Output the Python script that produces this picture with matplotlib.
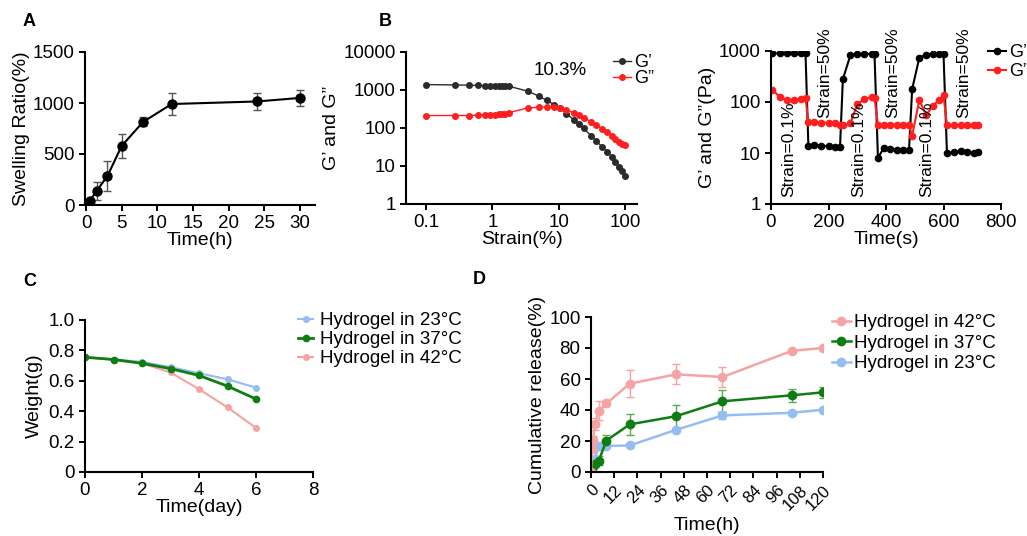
import matplotlib.pyplot as plt
from matplotlib.ticker import FixedLocator, FixedFormatter, NullLocator

plt.rcParams['font.family'] = ['Liberation Sans', 'DejaVu Sans']
plt.rcParams['axes.linewidth'] = 1.5
plt.rcParams['xtick.major.width'] = 1.4
plt.rcParams['ytick.major.width'] = 1.4
plt.rcParams['xtick.major.size'] = 4
plt.rcParams['ytick.major.size'] = 4
plt.rcParams['xtick.labelsize'] = 13.5
plt.rcParams['ytick.labelsize'] = 13.5
plt.rcParams['axes.labelsize'] = 14

# A - swelling ratio
sw_time = [0.5, 1.5, 3, 5, 8, 12, 24, 30]
sw_ratio = [40, 140, 285, 580, 815, 990, 1015, 1050]
sw_err = [15, 90, 145, 115, 45, 105, 80, 75]

# B - amplitude sweep
strain = [0.1, 0.27, 0.44, 0.61, 0.78, 0.93, 1.08, 1.24, 1.39, 1.56, 1.8, 3.4, 5.1, 6.6,
          8.5, 10.3, 13, 16.7, 20, 23.6, 30.5, 36.6, 44.6, 53, 62, 71, 80, 89, 100]
g1_strain = [1390, 1360, 1340, 1320, 1310, 1300, 1290, 1280, 1270, 1260, 1250, 930, 680, 530,
             410, 340, 240, 165, 125, 98, 63, 46, 32, 24, 17.7, 13.1, 9.7, 7.2, 5.5]
g2_strain = [213, 213, 213, 218, 220, 222, 226, 228, 232, 235, 255, 337, 351, 355,
             358, 340, 300, 250, 215, 185, 146, 117, 96, 80, 62, 51, 43, 38, 36]

# step strain recovery
rec_time = [5, 30, 55, 80, 105, 120,
            130, 150, 175, 200, 222, 240,
            250, 276, 300, 325, 350, 360,
            372, 392, 415, 438, 460, 480,
            491, 516, 540, 563, 585, 600,
            612, 635, 660, 683, 705, 720]
rec_g1 = [900, 900, 900, 900, 910, 910,
          14, 14.5, 14, 13.5, 13, 13,
          280, 820, 880, 880, 880, 870,
          8, 12.5, 12, 11.5, 11.5, 11.5,
          180, 740, 850, 880, 880, 880,
          10, 10.3, 10.8, 10.6, 10, 10.5]
rec_g2 = [175, 125, 110, 108, 115, 122,
          40, 40, 39.5, 39, 38, 35,
          35, 38, 90, 115, 125, 122,
          35, 36, 36, 36, 36, 35,
          22, 110, 55, 85, 110, 135,
          35, 35, 35, 35, 35, 35]
step_labels = ['Strain=0.1%', 'Strain=50%', 'Strain=0.1%', 'Strain=50%', 'Strain=0.1%', 'Strain=50%']
step_label_t = [60, 188, 304, 425, 541, 669]

# C - weight loss
day = [0, 1, 2, 3, 4, 5, 6]
w_23 = [0.755, 0.74, 0.725, 0.69, 0.65, 0.61, 0.555]
w_37 = [0.755, 0.74, 0.715, 0.68, 0.635, 0.565, 0.48]
w_42 = [0.755, 0.74, 0.715, 0.655, 0.545, 0.425, 0.29]

# D - cumulative release
rel_time = [0, 0.5, 1, 2, 4, 8, 20, 44, 68, 104, 120]
rel_42 = [0, 14.7, 20.5, 31, 39.5, 44.2, 57, 63, 61.3, 78.2, 80]
rel_42_err = [0, 2, 3, 4, 6, 1.5, 8.5, 6.5, 6.3, 1, 1]
rel_37 = [0, 2.5, 3.7, 5.4, 7.3, 20.3, 30.7, 36, 45.6, 49.5, 51.4]
rel_37_err = [0, 1, 1.5, 2, 3, 3.5, 7, 7.5, 7, 4.3, 3.5]
rel_23 = [0, 5, 6.5, 8.6, 16.6, 16.8, 17.1, 27.2, 36.5, 38.2, 40.2]
rel_23_err = [0, 1, 1, 1, 1, 1, 1, 1.5, 2.5, 1, 1]

c_blue = '#96bdf2'
c_green = '#0f7d12'
c_pink = '#f5a3a3'
c_red = '#ff1f1f'
c_black = '#2b2b2b'

W, H = 1027, 536
fig = plt.figure(figsize=(W / 100, H / 100), dpi=100)


def box(x0, x1, y0, y1):
    return [x0 / W, 1 - y1 / H, (x1 - x0) / W, (y1 - y0) / H]


def clean(ax):
    ax.spines['top'].set_visible(False)
    ax.spines['right'].set_visible(False)


# panel A
axA = fig.add_axes(box(85, 315, 52, 205))
axA.errorbar(sw_time, sw_ratio, yerr=sw_err, fmt='-o', color='black', ms=6.5, lw=1.5,
             ecolor='#555555', elinewidth=1, capsize=3, capthick=1)
axA.set_xlim(-0.15, 32.1)
axA.set_ylim(0, 1500)
axA.set_xticks([0, 5, 10, 15, 20, 25, 30])
axA.set_yticks([0, 500, 1000, 1500])
axA.set_xlabel('Time(h)', labelpad=0)
axA.set_ylabel('Swelling Ratio(%)', labelpad=2)
clean(axA)

# panel B
axB = fig.add_axes(box(406, 637, 52, 204))
axB.plot(strain, g1_strain, '-o', color=c_black, ms=4, lw=1, label='G\u2019')
axB.plot(strain, g2_strain, '-o', color=c_red, ms=4, lw=1, label='G\u201d')
axB.set_xscale('log')
axB.set_yscale('log')
axB.set_xlim(0.05, 150)
axB.set_ylim(1, 10000)
axB.xaxis.set_major_locator(FixedLocator([0.1, 1, 10, 100]))
axB.xaxis.set_major_formatter(FixedFormatter(['0.1', '1', '10', '100']))
axB.yaxis.set_major_locator(FixedLocator([1, 10, 100, 1000, 10000]))
axB.yaxis.set_major_formatter(FixedFormatter(['1', '10', '100', '1000', '10000']))
axB.xaxis.set_minor_locator(NullLocator())
axB.yaxis.set_minor_locator(NullLocator())
axB.text(10.4, 3200, '10.3%', ha='center', va='center', fontsize=13.5)
axB.set_xlabel('Strain(%)', labelpad=0)
axB.set_ylabel('G\u2019 and G\u201d', labelpad=2)
axB.legend(loc='upper left', bbox_to_anchor=(613 / W, 1 - 54 / H), bbox_transform=fig.transFigure,
           frameon=False, fontsize=13, borderpad=0, borderaxespad=0, handlelength=1.0,
           handletextpad=0.15, labelspacing=-0.05)
clean(axB)

# step strain panel
axR = fig.add_axes(box(771, 1001, 51, 204))
axR.plot(rec_time, rec_g1, '-o', color='black', ms=4.5, lw=1.5, label='G\u2019')
axR.plot(rec_time, rec_g2, '-o', color=c_red, ms=4.5, lw=1.5, label='G\u201d')
axR.set_yscale('log')
axR.set_xlim(0, 800)
axR.set_ylim(1, 1000)
axR.set_xticks([0, 200, 400, 600, 800])
axR.yaxis.set_major_locator(FixedLocator([1, 10, 100, 1000]))
axR.yaxis.set_major_formatter(FixedFormatter(['1', '10', '100', '1000']))
axR.yaxis.set_minor_locator(NullLocator())
for lab, t in zip(step_labels, step_label_t):
    yb = 1.37 if '0.1' in lab else 48.5
    axR.text(t, yb, lab, rotation=90, ha='center', va='bottom', fontsize=12.5)
axR.set_xlabel('Time(s)', labelpad=0)
axR.set_ylabel('G\u2019 and G\u201d(Pa)', labelpad=2)
axR.legend(loc='upper left', bbox_to_anchor=(988 / W, 1 - 44 / H), bbox_transform=fig.transFigure,
           frameon=False, fontsize=13, borderpad=0, borderaxespad=0, handlelength=1.0,
           handletextpad=0.15, labelspacing=0.12)
clean(axR)

# panel C
axC = fig.add_axes(box(85, 313, 320, 472))
lc23, = axC.plot(day, w_23, '-o', color=c_blue, ms=4, lw=1.5)
lc42, = axC.plot(day, w_42, '-o', color=c_pink, ms=4, lw=1.5)
lc37, = axC.plot(day, w_37, '-o', color=c_green, ms=4.5, lw=2)
axC.set_xlim(0, 8)
axC.set_ylim(0, 1.0)
axC.set_xticks([0, 2, 4, 6, 8])
axC.yaxis.set_major_locator(FixedLocator([0, 0.2, 0.4, 0.6, 0.8, 1.0]))
axC.yaxis.set_major_formatter(FixedFormatter(['0', '0.2', '0.4', '0.6', '0.8', '1.0']))
axC.set_xlabel('Time(day)', labelpad=0)
axC.set_ylabel('Weight(g)', labelpad=4)
axC.legend([lc23, lc37, lc42], ['Hydrogel in 23\u00b0C', 'Hydrogel in 37\u00b0C', 'Hydrogel in 42\u00b0C'],
           loc='upper left', bbox_to_anchor=(298 / W, 1 - 312 / H), bbox_transform=fig.transFigure,
           frameon=False, fontsize=13.5, borderpad=0, borderaxespad=0, handlelength=0.8,
           handletextpad=0.35, labelspacing=0.1)
clean(axC)

# panel D
axD = fig.add_axes(box(591, 823, 317, 472))
eb23 = axD.errorbar(rel_time, rel_23, yerr=rel_23_err, fmt='-o', color=c_blue, ms=6, lw=1.8,
                    elinewidth=1, capsize=3)
eb37 = axD.errorbar(rel_time, rel_37, yerr=rel_37_err, fmt='-o', color=c_green, ms=6, lw=1.8,
                    elinewidth=1, capsize=3, ecolor='#5aa85a')
eb42 = axD.errorbar(rel_time, rel_42, yerr=rel_42_err, fmt='-o', color=c_pink, ms=6, lw=1.8,
                    elinewidth=1, capsize=3)
axD.set_xlim(0, 120)
axD.set_ylim(0, 100)
axD.set_xticks(range(0, 121, 12))
axD.set_yticks([0, 20, 40, 60, 80, 100])
axD.tick_params(axis='x', labelsize=12)
for lab in axD.get_xticklabels():
    lab.set_rotation(45)
    lab.set_ha('right')
    lab.set_rotation_mode('anchor')
axD.set_xlabel('Time(h)', labelpad=3)
axD.set_ylabel('Cumulative release(%)', labelpad=2)
axD.legend([eb42[0], eb37[0], eb23[0]], ['Hydrogel in 42\u00b0C', 'Hydrogel in 37\u00b0C', 'Hydrogel in 23\u00b0C'],
           loc='upper left', bbox_to_anchor=(832 / W, 1 - 314 / H), bbox_transform=fig.transFigure,
           frameon=False, fontsize=13.5, borderpad=0, borderaxespad=0, handlelength=1.0,
           handletextpad=0.15, labelspacing=0.18)
clean(axD)

# panel letters
for letter, x, y in [('A', 23, 22), ('B', 379, 22), ('C', 23, 281), ('D', 473, 280)]:
    fig.text(x / W, 1 - y / H, letter, fontsize=13, fontweight='bold', ha='left', va='center')

plt.savefig('out.png', dpi=100)
